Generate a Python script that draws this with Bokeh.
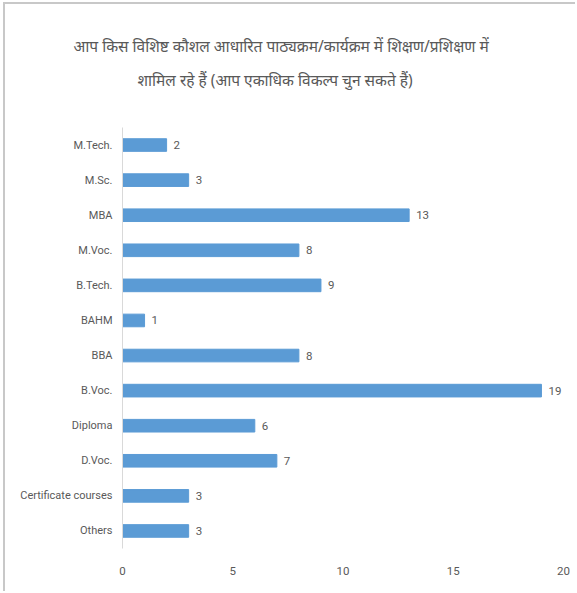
from bokeh.plotting import figure
from bokeh.models import FactorRange, Title, ColumnDataSource, LabelSet
from bokeh.core.properties import value
from bokeh.embed import file_html
from bokeh.resources import INLINE

categories = ["M.Tech.", "M.Sc.", "MBA", "M.Voc.", "B.Tech.", "BAHM", "BBA",
              "B.Voc.", "Diploma", "D.Voc.", "Certificate courses", "Others"]
values = [2, 3, 13, 8, 9, 1, 8, 19, 6, 7, 3, 3]
x_ticks = [0, 5, 10, 15, 20]
title_line1 = "आप किस विशिष्ट कौशल आधारित पाठ्यक्रम/कार्यक्रम में शिक्षण/प्रशिक्षण में"
title_line2 = "शामिल रहे हैं (आप एकाधिक विकल्प चुन सकते हैं)"

FONT = "Roboto"
GREY = "#595959"

source = ColumnDataSource(dict(cat=categories, val=values, lab=[str(v) for v in values]))

p = figure(width=572, height=589, output_backend="svg", toolbar_location=None,
           y_range=FactorRange(*list(reversed(categories))), x_range=(0, 20),
           min_border_left=117, min_border_right=14, min_border_bottom=45, min_border_top=123)
p.styles = {"border-top": "2px solid #c8c8c8", "border-left": "2px solid #c8c8c8",
            "margin-left": "3px", "margin-top": "2px"}

p.hbar(y="cat", right="val", left=0, height=0.36, source=source,
       fill_color="#5B9BD5", line_color="#5B9BD5")

labels = LabelSet(x="val", y="cat", text="lab", source=source, x_offset=7,
                  text_baseline="middle", text_font=value(FONT), text_font_size=value("11.5px"),
                  text_color=GREY)
p.add_layout(labels)

p.add_layout(Title(text=title_line2, align="left", text_font="Noto Sans",
                   text_font_size="15.5px", text_color=GREY, text_font_style="normal",
                   standoff=74, offset=15), "above")
p.add_layout(Title(text=title_line1, align="left", text_font="Noto Sans",
                   text_font_size="15.5px", text_color=GREY, text_font_style="normal",
                   standoff=-54, offset=-49), "above")

p.xgrid.grid_line_color = None
p.ygrid.grid_line_color = None
p.outline_line_color = None

p.xaxis.ticker = x_ticks
p.xaxis.axis_line_color = None
p.xaxis.major_tick_line_color = None
p.xaxis.minor_tick_line_color = None
p.xaxis.major_label_text_font = FONT
p.xaxis.major_label_text_font_size = "11.5px"
p.xaxis.major_label_text_color = GREY
p.xaxis.major_label_standoff = 12

p.yaxis.axis_line_color = "#d9d9d9"
p.yaxis.major_tick_line_color = None
p.yaxis.minor_tick_line_color = None
p.yaxis.major_label_text_font = FONT
p.yaxis.major_label_text_font_size = "11px"
p.yaxis.major_label_text_color = GREY
p.yaxis.major_label_standoff = 4

open("out.html", "w").write(file_html(p, INLINE))
